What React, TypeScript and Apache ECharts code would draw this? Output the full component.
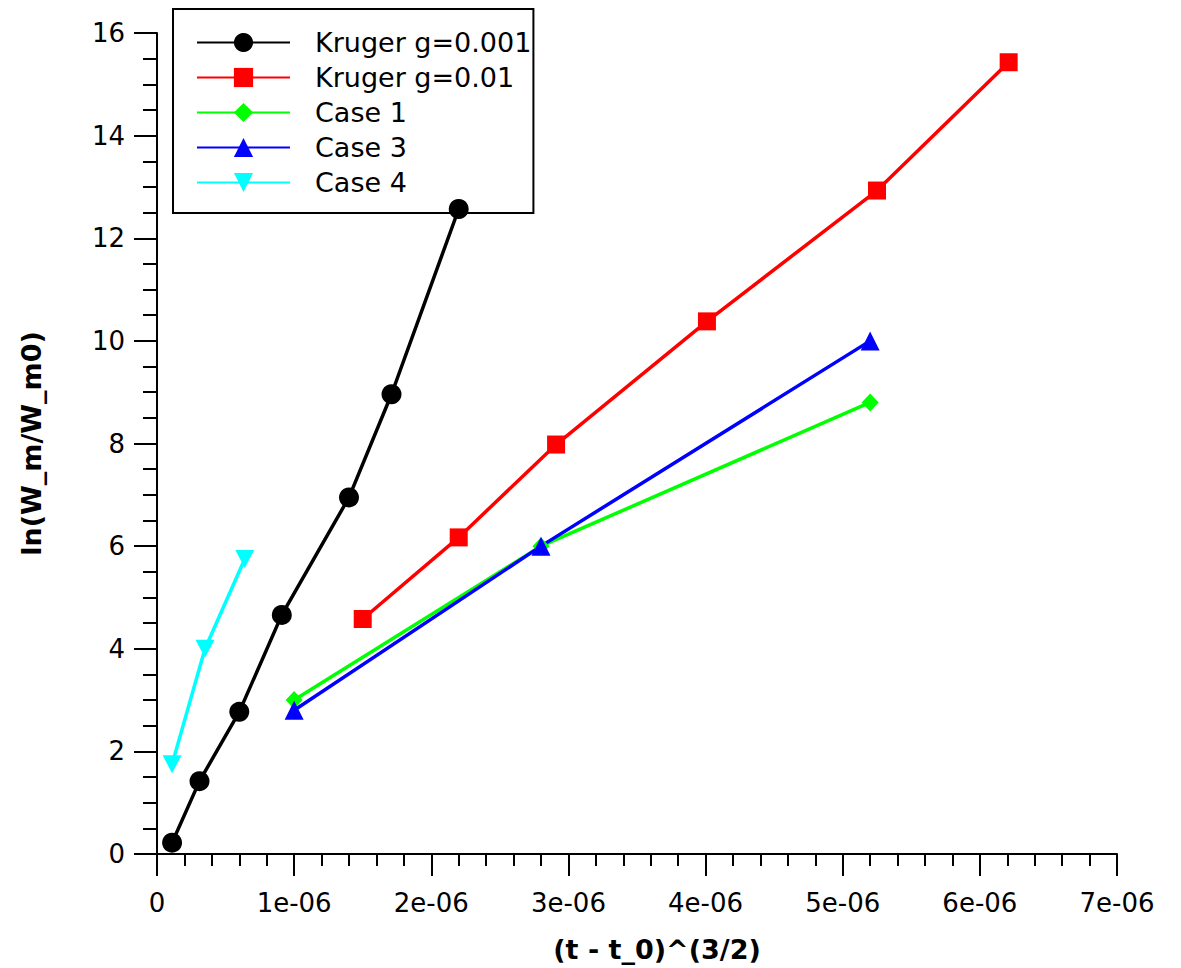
import React, { useEffect, useRef } from "react";
import * as echarts from "echarts";

// x values are (t - t_0)^(3/2), y values are ln(W_m/W_m0)
const krugerG001X = [0.11e-6, 0.31e-6, 0.6e-6, 0.91e-6, 1.4e-6, 1.71e-6, 2.2e-6];
const krugerG001Y = [0.22, 1.42, 2.77, 4.66, 6.95, 8.96, 12.57];

const krugerG01X = [1.5e-6, 2.2e-6, 2.91e-6, 4.01e-6, 5.25e-6, 6.21e-6];
const krugerG01Y = [4.58, 6.17, 7.98, 10.38, 12.93, 15.43];

const case1X = [1.0e-6, 2.8e-6, 5.2e-6];
const case1Y = [3.0, 6.0, 8.8];

const case3X = [1.0e-6, 2.8e-6, 5.2e-6];
const case3Y = [2.8, 6.0, 10.0];

const case4X = [0.11e-6, 0.35e-6, 0.64e-6];
const case4Y = [1.75, 4.0, 5.75];

const seriesNames = ["Kruger g=0.001", "Kruger g=0.01", "Case 1", "Case 3", "Case 4"];

const FONT = "DejaVu Sans";

const pairs = (xs: number[], ys: number[]) => xs.map((x, i) => [x, ys[i]]);

export default function App() {
  const ref = useRef<HTMLDivElement>(null);

  useEffect(() => {
    if (!ref.current) return;
    const chart = echarts.init(ref.current, null, { renderer: "svg" });

    const lineSeries = (
      name: string,
      data: number[][],
      color: string,
      symbol: string,
      symbolSize: number | number[],
      symbolRotate = 0
    ) => ({
      name,
      type: "line",
      z: 3,
      data,
      symbol,
      symbolSize,
      symbolRotate,
      showAllSymbol: true,
      itemStyle: { color },
      lineStyle: { color, width: 3.5 },
      emphasis: { disabled: true },
    });

    chart.setOption({
      animation: false,
      backgroundColor: "#ffffff",
      textStyle: { fontFamily: FONT },
      grid: { left: 157, right: 64, top: 33, bottom: 110, containLabel: false },
      legend: {
        orient: "vertical",
        z: 1,
        left: 173,
        top: 9,
        data: seriesNames,
        backgroundColor: "#ffffff",
        borderColor: "#000000",
        borderWidth: 2,
        borderRadius: 0,
        padding: [20, 2, 17, 23],
        itemWidth: 93,
        itemHeight: 24,
        itemGap: 8,
        textStyle: {
          fontFamily: FONT,
          fontSize: 27,
          color: "#000000",
          lineHeight: 24,
          padding: [0, 0, 0, 20],
        },
      },
      xAxis: {
        type: "value",
        min: 0,
        max: 7e-6,
        interval: 1e-6,
        name: "(t - t_0)^(3/2)",
        nameLocation: "middle",
        nameGap: 82,
        nameTextStyle: {
          fontFamily: FONT,
          fontSize: 27,
          fontWeight: "bold",
          color: "#000000",
          padding: [0, 0, 0, 40],
        },
        axisLine: { show: true, onZero: false, lineStyle: { color: "#000000", width: 2 } },
        axisTick: { show: true, inside: false, length: 22, lineStyle: { color: "#000000", width: 2 } },
        minorTick: { show: true, splitNumber: 5, length: 12, lineStyle: { color: "#000000", width: 2 } },
        splitLine: { show: false },
        minorSplitLine: { show: false },
        axisLabel: {
          margin: 36,
          fontFamily: FONT,
          fontSize: 26,
          color: "#000000",
          formatter: (v: number) => (v === 0 ? "0" : `${Math.round(v * 1e6)}e-06`),
        },
      },
      yAxis: {
        type: "value",
        min: 0,
        max: 16,
        interval: 2,
        name: "ln(W_m/W_m0)",
        nameLocation: "middle",
        nameGap: 112,
        nameTextStyle: {
          fontFamily: FONT,
          fontSize: 27,
          fontWeight: "bold",
          color: "#000000",
        },
        axisLine: { show: true, onZero: false, lineStyle: { color: "#000000", width: 2 } },
        axisTick: { show: true, inside: false, length: 23, lineStyle: { color: "#000000", width: 2 } },
        minorTick: { show: true, splitNumber: 4, length: 14, lineStyle: { color: "#000000", width: 2 } },
        splitLine: { show: false },
        minorSplitLine: { show: false },
        axisLabel: {
          margin: 32,
          fontFamily: FONT,
          fontSize: 26,
          color: "#000000",
        },
      },
      series: [
        lineSeries(seriesNames[0], pairs(krugerG001X, krugerG001Y), "#000000", "circle", 20),
        lineSeries(seriesNames[1], pairs(krugerG01X, krugerG01Y), "#ff0000", "rect", 18),
        lineSeries(seriesNames[2], pairs(case1X, case1Y), "#00ff00", "diamond", [17, 18]),
        lineSeries(seriesNames[3], pairs(case3X, case3Y), "#0000ff", "triangle", [19, 19]),
        lineSeries(seriesNames[4], pairs(case4X, case4Y), "#00ffff", "triangle", [19, 18], 180),
      ],
    });

    return () => chart.dispose();
  }, []);

  return (
    <div
      ref={ref}
      style={{ position: "fixed", left: 0, top: 0, width: 1181, height: 968, background: "#ffffff" }}
    />
  );
}
